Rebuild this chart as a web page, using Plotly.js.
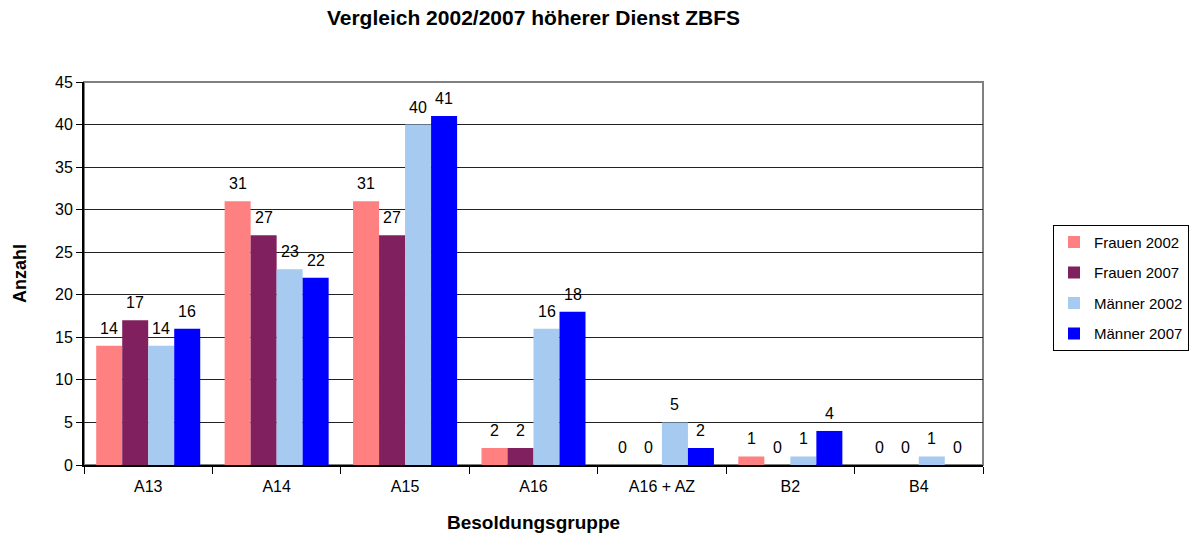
<!DOCTYPE html>
<html><head><meta charset="utf-8">
<script src="https://cdn.plot.ly/plotly-3.0.1.min.js"></script>
<style>body{margin:0;background:#fff}#c{width:1194px;height:533px}</style>
</head><body><div id="c"></div>
<script>
const categories = ["A13","A14","A15","A16","A16 + AZ","B2","B4"];
const frauen2002 = [14,31,31,2,0,1,0];
const frauen2007 = [17,27,27,2,0,0,0];
const maenner2002 = [14,23,40,16,5,1,1];
const maenner2007 = [16,22,41,18,2,4,0];
const seriesNames = ["Frauen 2002","Frauen 2007","Männer 2002","Männer 2007"];
const colors = ["#FF8080","#80205F","#A6CAF0","#0000FF"];
const allVals = [frauen2002,frauen2007,maenner2002,maenner2007];

const W = 1194, H = 533, M = {l:84, r:211, t:82, b:68, autoexpand:false};
const bargap = 0.19;
const plotW = W - M.l - M.r;
const barW = plotW / categories.length * (1 - bargap) / allVals.length;
const FONT = 'Liberation Sans, Arial, sans-serif';

const traces = allVals.map((v,i)=>({
  type:'bar', x:categories, y:v, name:seriesNames[i],
  legendgroup:'g'+i,
  marker:{color:colors[i], line:{width:0}},
  hoverinfo:'none'
}));

const annotations = [];
allVals.forEach((v,i)=>{
  v.forEach((val,j)=>{
    annotations.push({
      x:categories[j], y:val, xref:'x', yref:'y',
      text:String(val), showarrow:false,
      xanchor:'center', yanchor:'bottom',
      xshift:(i - (allVals.length-1)/2) * barW, yshift:7,
      font:{family:FONT, size:16, color:'#000'}
    });
  });
});

const layout = {
  width:W, height:H,
  margin:M,
  paper_bgcolor:'#fff', plot_bgcolor:'#fff',
  font:{family:FONT, size:16, color:'#000'},
  title:{text:'<b>Vergleich 2002/2007 höherer Dienst ZBFS</b>', x:0.5, xref:'paper', xanchor:'center', y:1-18/H, yanchor:'middle', font:{size:21}},
  barmode:'group', bargap:bargap, bargroupgap:0,
  xaxis:{
    title:{text:'<b>Besoldungsgruppe</b>', font:{size:19}, standoff:22},
    showline:true, linecolor:'#000', linewidth:2,
    ticks:'outside', tickson:'boundaries', ticklen:7, tickcolor:'#000',
    ticklabelstandoff:6,
    showgrid:false, tickfont:{size:16}
  },
  yaxis:{
    title:{text:'<b>Anzahl</b>', font:{size:18}, standoff:24},
    range:[0,45], dtick:5, tick0:0,
    showline:true, linecolor:'#000', linewidth:2,
    ticks:'outside', ticklen:6, tickcolor:'#000',
    showgrid:true, gridcolor:'#222', gridwidth:1,
    zeroline:false, tickfont:{size:16}
  },
  shapes:[{type:'rect', xref:'paper', yref:'paper', x0:0, x1:1, y0:0, y1:1, line:{color:'#808080', width:2}, layer:'below'}],
  annotations:annotations,
  legend:{
    x:(1053-M.l)/plotW, xanchor:'left', y:0.463, yanchor:'middle',
    bordercolor:'#000', borderwidth:1, bgcolor:'#fff',
    font:{size:15}, traceorder:'grouped', tracegroupgap:8, itemwidth:30
  },
  showlegend:true
};
Plotly.newPlot('c', traces, layout, {displayModeBar:false, staticPlot:true});
</script></body></html>
